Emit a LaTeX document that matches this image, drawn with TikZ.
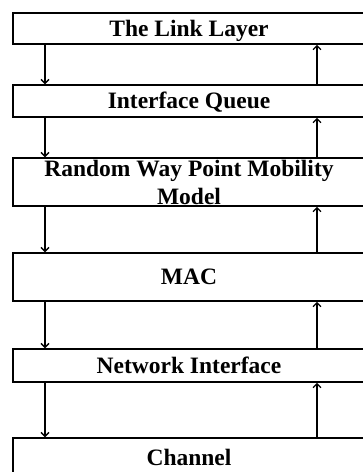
\documentclass[tikz,border=0pt]{standalone}
\usepackage{fontspec}
\setmainfont{Liberation Serif}
\usetikzlibrary{arrows.meta}
\begin{document}
\begin{tikzpicture}[x=1pt,y=-1pt,
  layer/.style={draw, line width=1.5pt, minimum width=352pt, inner sep=0pt,
    font=\fontsize{23.5}{28}\selectfont\bfseries, text height=15.4pt, text depth=0pt},
  layertwo/.style={draw, line width=1.5pt, minimum width=352pt, inner sep=0pt,
    font=\fontsize{23.5}{28}\selectfont\bfseries, align=center},
  flow/.style={line width=1.3pt, -{Straight Barb[length=4pt,width=8pt]}}]
\clip (0,0) rectangle (363,472);
\fill[white] (0,0) rectangle (363,472);
\coordinate (dl) at (45,0);
\coordinate (ur) at (317,0);
\node[layer, minimum height=31pt] (b1) at (189,28.5) {The Link Layer};
\node[layer, minimum height=32pt] (b2) at (189,101) {Interface Queue};
\node[layertwo, minimum height=48pt] (b3) at (189,182) {Random Way Point Mobility\\Model};
\node[layer, minimum height=48pt] (b4) at (189,277) {MAC};
\node[layer, minimum height=33pt] (b5) at (189,365.5) {Network Interface};
\node[layer, minimum height=39pt] (b6) at (189,457.5) {Channel};
\foreach \a/\b in {b1/b2,b2/b3,b3/b4,b4/b5,b5/b6}{
  \draw[flow] (\a.south -| dl) -- (\b.north -| dl);
  \draw[flow] (\b.north -| ur) -- (\a.south -| ur);
}
\end{tikzpicture}
\end{document}
